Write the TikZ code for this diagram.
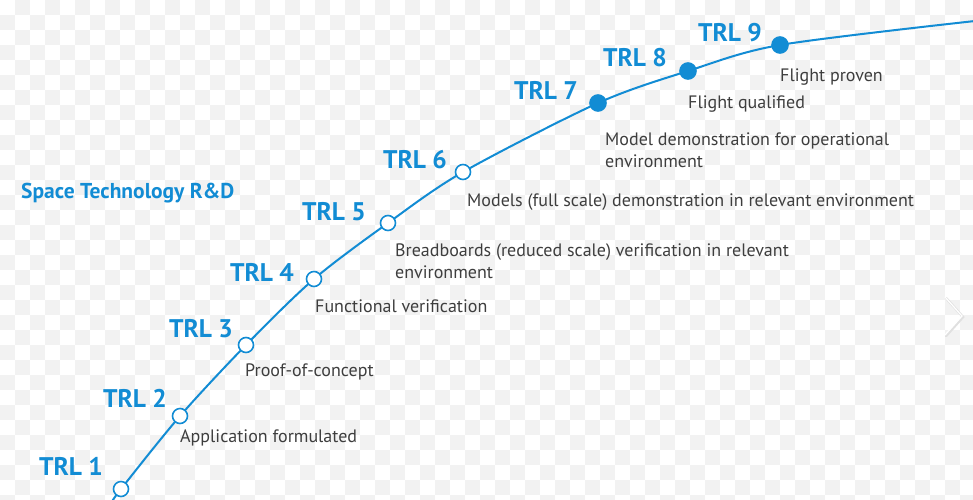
\documentclass[tikz,border=0pt]{standalone}
\usepackage{fontspec}
\setmainfont{PT Sans}
\begin{document}
\begin{tikzpicture}[x=1pt,y=-1pt,
  trl/.style={text=trlblue, font=\fontsize{25.5}{26}\selectfont\bfseries, inner sep=0pt},
  desc/.style={text=desctext, font=\fontsize{18}{22}\selectfont, inner sep=0pt, anchor=west, align=left},
  opendot/.style={circle, draw=trlblue, line width=1.6pt, fill=white, minimum size=15pt, inner sep=0pt},
  filldot/.style={circle, draw=trlblue, line width=1.6pt, fill=trlblue, minimum size=16pt, inner sep=0pt},
  curve/.style={draw=trlblue, line width=2pt}
]
\definecolor{trlblue}{RGB}{18,140,212}
\definecolor{desctext}{RGB}{62,62,62}
\definecolor{checker}{RGB}{242,242,242}
\useasboundingbox (0,0) rectangle (973,499);
\fill[white] (0,0) rectangle (973,499);
% faint transparency checkerboard
\foreach \i in {0,...,64} {
  \foreach \j in {0,...,33} {
    \pgfmathparse{int(mod(\i+\j,2))}
    \ifnum\pgfmathresult=1
      \fill[checker] (\i*15,\j*15) rectangle ++(15,15);
    \fi
  }
}
% point coordinates
\coordinate (s) at (112,502);
\coordinate (c1) at (121,489);
\coordinate (c2) at (180,416);
\coordinate (c3) at (246,345);
\coordinate (c4) at (314,279);
\coordinate (c5) at (388,223);
\coordinate (c6) at (463,172);
\coordinate (c7) at (598,103);
\coordinate (c8) at (688,71);
\coordinate (c9) at (780,45);
\coordinate (e) at (975,21);
\draw[curve] plot[smooth, tension=0.5] coordinates {(s) (c1) (c2) (c3) (c4) (c5) (c6) (c7) (c8) (c9) (e)};
% dots
\node[opendot] (d1) at (c1) {};
\node[opendot] (d2) at (c2) {};
\node[opendot] (d3) at (c3) {};
\node[opendot] (d4) at (c4) {};
\node[opendot] (d5) at (c5) {};
\node[opendot] (d6) at (c6) {};
\node[filldot] (d7) at (c7) {};
\node[filldot] (d8) at (c8) {};
\node[filldot] (d9) at (c9) {};
% TRL labels
\node[trl] (l1) at (71,466) {TRL 1};
\node[trl] (l2) at (135,398) {TRL 2};
\node[trl] (l3) at (201,329) {TRL 3};
\node[trl] (l4) at (262,272) {TRL 4};
\node[trl] (l5) at (334,212) {TRL 5};
\node[trl] (l6) at (415,160) {TRL 6};
\node[trl] (l7) at (546,90) {TRL 7};
\node[trl] (l8) at (635,58) {TRL 8};
\node[trl] (l9) at (730,33) {TRL 9};
% title
\node[text=trlblue, font=\fontsize{21.5}{24}\selectfont\bfseries, inner sep=0pt, anchor=west] (title) at (21,193) {Space Technology R\&D};
% descriptions
\node[desc] (t1) at (180,438) {Application formulated};
\node[desc] (t2) at (245,372) {Proof-of-concept};
\node[desc] (t3) at (315,306) {Functional verification};
\node[desc] (t4) at (395,261) {Breadboards (reduced scale) verification in relevant\\environment};
\node[desc] (t5) at (467,202) {Models (full scale) demonstration in relevant environment};
\node[desc] (t6) at (605,150) {Model demonstration for operational\\environment};
\node[desc] (t7) at (688,104) {Flight qualified};
\node[desc] (t8) at (780,77) {Flight proven};
% faint chevron
\draw[line width=2.5pt, black!12, line cap=round] (946,298) -- (963,317) -- (946,336);
\draw[line width=1.2pt, white, line cap=round] (945,297) -- (962,316) -- (945,335);
\end{tikzpicture}
\end{document}
